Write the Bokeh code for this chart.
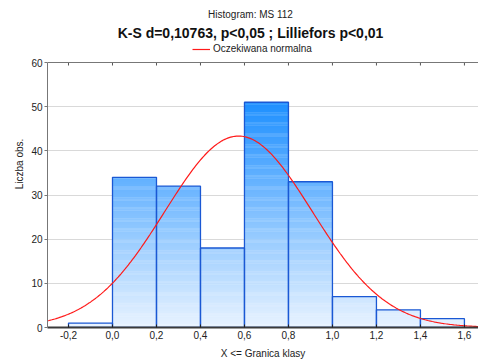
import numpy as np
from bokeh.plotting import figure
from bokeh.models import (FixedTicker, Legend, LegendItem, Label, Span, Range1d)
from bokeh.embed import file_html
from bokeh.resources import INLINE

# ---- data ----
bin_left = [-0.2, 0.0, 0.2, 0.4, 0.6, 0.8, 1.0, 1.2, 1.4]
bin_right = [0.0, 0.2, 0.4, 0.6, 0.8, 1.0, 1.2, 1.4, 1.6]
counts = [1, 34, 32, 18, 51, 33, 7, 4, 2]
x_ticks = [-0.2, 0.0, 0.2, 0.4, 0.6, 0.8, 1.0, 1.2, 1.4, 1.6]
x_tick_labels = ["-0,2", "0,0", "0,2", "0,4", "0,6", "0,8", "1,0", "1,2", "1,4", "1,6"]
y_ticks = [0, 10, 20, 30, 40, 50, 60]
y_max = 60
fit_mean = 0.573
fit_sd = 0.335
n_obs = sum(counts)
bin_width = 0.2

FONT = "Liberation Sans"
X0, X1 = -0.2955, 1.664
W, H = 478, 361
FRAME_LEFT, FRAME_BOTTOM_PX = 47, 327      # pixel position of the value axis origin
PX_PER_UNIT = (FRAME_BOTTOM_PX - 62) / y_max
Y_TOP = FRAME_BOTTOM_PX / PX_PER_UNIT      # frame extends to the top of the canvas


def y_at(px):   # value that sits at a given canvas row
    return (FRAME_BOTTOM_PX - px) / PX_PER_UNIT


def x_at(px):
    return X0 + (px - FRAME_LEFT) * (X1 - X0) / (W - FRAME_LEFT)


p = figure(width=W, height=H, output_backend="svg", toolbar_location=None,
           x_range=Range1d(X0, X1), y_range=Range1d(0, Y_TOP),
           min_border_left=FRAME_LEFT, min_border_right=0, min_border_top=0,
           min_border_bottom=H - FRAME_BOTTOM_PX, title=None)
p.outline_line_color = None
p.background_fill_color = "white"
p.border_fill_color = "white"

p.xgrid.grid_line_color = None
p.ygrid.ticker = FixedTicker(ticks=[10, 20, 30, 40, 50])
p.ygrid.grid_line_color = "#d9d9d9"

# ---- gradient-filled bars (colour depends on height) ----
light = np.array([232, 243, 255])
dark = np.array([30, 143, 255])
vmax = max(counts)
step = 0.25
ql, qr, qb, qt, qc = [], [], [], [], []
for l, r, c in zip(bin_left, bin_right, counts):
    lvl = 0.0
    while lvl < c - 1e-9:
        top = min(c, lvl + step)
        t = min(1.0, (lvl + top) / 2 / vmax)
        col = light + (dark - light) * t
        ql.append(l); qr.append(r)
        qb.append(max(0, lvl - 0.08)); qt.append(top)
        qc.append("#%02x%02x%02x" % tuple(int(round(v)) for v in col))
        lvl = top
p.quad(left=ql, right=qr, bottom=qb, top=qt, fill_color=qc, line_color=None)
p.quad(left=bin_left, right=bin_right, bottom=0, top=counts,
       fill_color=None, line_color="#1a58d4", line_width=1.3)

# ---- expected normal curve ----
xs = np.linspace(X0, X1, 300)
ys = n_obs * bin_width / (fit_sd * np.sqrt(2 * np.pi)) * np.exp(-0.5 * ((xs - fit_mean) / fit_sd) ** 2)
curve = p.line(xs, ys, line_color="#ff1a1a", line_width=1.2)

# ---- top border with inward ticks ----
p.add_layout(Span(location=y_max, dimension="width", line_color="#777777", line_width=1))
tick_len = 3 / PX_PER_UNIT
p.segment(x0=x_ticks, y0=[y_max] * len(x_ticks), x1=x_ticks,
          y1=[y_max - tick_len] * len(x_ticks), line_color="#555555", line_width=1)

# ---- axes ----
p.xaxis.ticker = FixedTicker(ticks=x_ticks)
p.xaxis.major_label_overrides = {t: s for t, s in zip(x_ticks, x_tick_labels)}
p.xaxis.axis_label = "X <= Granica klasy"
p.xaxis.axis_line_color = "#3a3a3a"
p.xaxis.axis_line_width = 2
p.xaxis.major_tick_in = 3
p.xaxis.major_tick_out = 0
p.xaxis.major_tick_line_color = "#222222"
p.xaxis.minor_tick_line_color = None
p.xaxis.major_label_standoff = 3
p.xaxis.axis_label_standoff = 6

p.yaxis.ticker = FixedTicker(ticks=y_ticks)
p.yaxis.bounds = (0, y_max)
p.yaxis.axis_label = "Liczba obs."
p.yaxis.axis_label_text_baseline = "middle"
p.yaxis.axis_line_color = "#777777"
p.yaxis.major_tick_in = 0
p.yaxis.major_tick_out = 3
p.yaxis.major_tick_line_color = "#777777"
p.yaxis.minor_tick_line_color = None
p.yaxis.major_label_standoff = 2
p.yaxis.axis_label_standoff = 3

for ax in (p.xaxis[0], p.yaxis[0]):
    ax.major_label_text_font = FONT
    ax.major_label_text_font_size = "10px"
    ax.major_label_text_color = "#222222"
    ax.axis_label_text_font = FONT
    ax.axis_label_text_font_size = "10px"
    ax.axis_label_text_font_style = "normal"
    ax.axis_label_text_color = "#222222"

# ---- titles and legend ----
p.add_layout(Label(x=x_at(250), y=y_at(14), text="Histogram: MS 112",
                   text_font=FONT, text_font_size="10px", text_color="#222222",
                   text_align="center", text_baseline="middle"))
p.add_layout(Label(x=x_at(250), y=y_at(32), text="K-S d=0,10763, p<0,05 ; Lilliefors p<0,01",
                   text_font=FONT, text_font_size="14px", text_font_style="bold",
                   text_color="#111111", text_align="center", text_baseline="middle"))
legend = Legend(items=[LegendItem(label="Oczekiwana normalna", renderers=[curve])],
                location=(192 - FRAME_LEFT, FRAME_BOTTOM_PX - 54), orientation="horizontal",
                glyph_width=18, glyph_height=10, label_height=10, label_standoff=3,
                padding=0, spacing=0, margin=0, border_line_color=None,
                background_fill_alpha=0, label_text_font=FONT,
                label_text_font_size="10px", label_text_color="#222222")
p.add_layout(legend, "center")

open("out.html", "w").write(file_html(p, INLINE))
